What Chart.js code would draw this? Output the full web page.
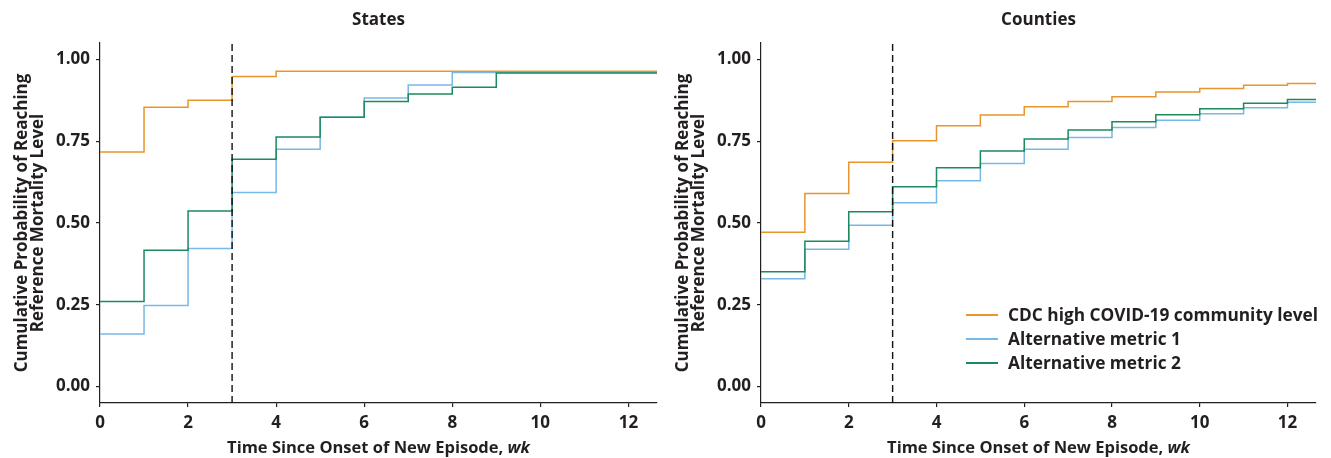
<!DOCTYPE html>
<html>
<head>
<meta charset="utf-8">
<script src="https://cdn.jsdelivr.net/npm/chart.js@4/dist/chart.umd.min.js"></script>
<style>
  body { margin: 0; background: #fff; font-family: "Open Sans", Lato, sans-serif; }
  #wrap { position: relative; width: 1331px; height: 458px; overflow: hidden; }
  .panel { position: absolute; top: 0; height: 458px; }
  #left { left: 0; width: 665px; }
  #right { left: 661px; width: 670px; }
  #legend { position: absolute; left: 966px; top: 303px; color: #231F20; font-weight: 700; font-size: 17.3px; }
  #legend div { height: 24px; line-height: 24px; white-space: nowrap; display: flex; align-items: center; }
  #legend span.sw { display: inline-block; width: 32px; height: 1.5px; margin-right: 10px; }
</style>
</head>
<body>
<div id="wrap">
  <div class="panel" id="left"><canvas id="statesChart"></canvas></div>
  <div class="panel" id="right"><canvas id="countiesChart"></canvas></div>
  <div id="legend"></div>
</div>
<script>
// ===== DATA =====
const weeks = [0, 1, 2, 3, 4, 5, 6, 7, 8, 9, 10, 11, 12, 12.65];
const xTicks = [0, 2, 4, 6, 8, 10, 12];
const yTicks = [0, 0.25, 0.5, 0.75, 1];
const onsetWeek = 3;
const yMin = -0.05;
const yMax = 1.05;
const xMax = 12.65;

const seriesNames = ["CDC high COVID-19 community level", "Alternative metric 1", "Alternative metric 2"];
const seriesColors = ["#E8952B", "#78B8E6", "#1C8A5C"];

const statesCdc  = [0.717, 0.854, 0.875, 0.948, 0.964, 0.964, 0.964, 0.964, 0.964, 0.964, 0.964, 0.964, 0.964, 0.964];
const statesAlt1 = [0.161, 0.248, 0.422, 0.593, 0.725, 0.823, 0.882, 0.922, 0.960, 0.960, 0.960, 0.960, 0.960, 0.960];
const statesAlt2 = [0.260, 0.417, 0.537, 0.695, 0.763, 0.823, 0.871, 0.894, 0.915, 0.958, 0.958, 0.958, 0.958, 0.958];

const countiesCdc  = [0.472, 0.590, 0.686, 0.751, 0.797, 0.830, 0.855, 0.871, 0.886, 0.900, 0.911, 0.921, 0.926, 0.926];
const countiesAlt1 = [0.330, 0.420, 0.493, 0.562, 0.629, 0.682, 0.725, 0.761, 0.792, 0.814, 0.834, 0.852, 0.869, 0.869];
const countiesAlt2 = [0.351, 0.444, 0.534, 0.611, 0.669, 0.720, 0.757, 0.784, 0.809, 0.831, 0.849, 0.866, 0.877, 0.877];

const textColor = "#231F20";
const fontFamily = "'Open Sans', Lato, sans-serif";
const titleFamily = "'Liberation Sans Narrow', 'Open Sans', sans-serif";
const xTitleMain = "Time Since Onset of New Episode, ";
const xTitleUnit = "wk";

function toPoints(values) {
  return values.map((v, i) => ({ x: weeks[i], y: v }));
}

// panel title and x-axis title (italic unit), both centred on the plot area
const titlesPlugin = {
  id: "panelTitles",
  afterDraw(chart, args, opts) {
    const { ctx, chartArea } = chart;
    const cx = (chartArea.left + chartArea.right) / 2;
    ctx.save();
    ctx.fillStyle = textColor;
    ctx.textBaseline = "middle";

    ctx.textAlign = "center";
    ctx.font = `bold 17px ${titleFamily}`;
    ctx.fillText(opts.text, cx, 20);

    const fMain = `bold 16.5px ${fontFamily}`;
    const fUnit = `italic bold 16.5px ${fontFamily}`;
    ctx.font = fMain;
    const w1 = ctx.measureText(xTitleMain).width;
    ctx.font = fUnit;
    const w2 = ctx.measureText(xTitleUnit).width;
    const x0 = cx - (w1 + w2) / 2;
    const y = chart.height - 10;
    ctx.textAlign = "left";
    ctx.font = fMain;
    ctx.fillText(xTitleMain, x0, y);
    ctx.font = fUnit;
    ctx.fillText(xTitleUnit, x0 + w1, y);
    ctx.restore();
  }
};

function makeChart(id, title, cdc, alt1, alt2, padRight) {
  const stepSet = (values, k) => ({
    label: seriesNames[k],
    data: toPoints(values),
    borderColor: seriesColors[k],
    borderWidth: 1.5,
    stepped: true,
    pointRadius: 0,
    fill: false
  });

  new Chart(document.getElementById(id), {
    type: "line",
    data: {
      datasets: [
        {
          label: "onset",
          data: [{ x: onsetWeek, y: yMin }, { x: onsetWeek, y: yMax }],
          borderColor: "#111",
          borderWidth: 1.4,
          borderDash: [7, 4],
          pointRadius: 0,
          fill: false
        },
        stepSet(cdc, 0),
        stepSet(alt2, 2),
        stepSet(alt1, 1)
      ]
    },
    plugins: [titlesPlugin],
    options: {
      responsive: true,
      maintainAspectRatio: false,
      animation: false,
      layout: { padding: { left: 0, right: padRight, top: 43, bottom: 0 } },
      plugins: {
        legend: { display: false },
        tooltip: { enabled: false },
        title: { display: false },
        panelTitles: { text: title }
      },
      scales: {
        x: {
          type: "linear",
          min: 0,
          max: xMax,
          afterBuildTicks: (s) => { s.ticks = xTicks.map(v => ({ value: v })); },
          afterFit: (s) => { s.height = 55; },
          border: { display: true, color: textColor, width: 1.2 },
          grid: { display: true, drawOnChartArea: false, drawTicks: true, tickLength: 4, color: textColor, lineWidth: 1.2 },
          ticks: {
            color: textColor,
            padding: 6,
            font: { family: fontFamily, size: 17, weight: "bold" },
            callback: (v) => v
          },
          title: { display: false }
        },
        y: {
          min: yMin,
          max: yMax,
          afterBuildTicks: (s) => { s.ticks = yTicks.map(v => ({ value: v })); },
          afterFit: (s) => { s.width = 100; },
          border: { display: true, color: textColor, width: 1.2 },
          grid: { display: true, drawOnChartArea: false, drawTicks: true, tickLength: 4, color: textColor, lineWidth: 1.2 },
          ticks: {
            color: textColor,
            padding: 6,
            font: { family: fontFamily, size: 17, weight: "bold" },
            callback: (v) => Number(v).toFixed(2)
          },
          title: {
            display: true,
            text: ["Cumulative Probability of Reaching", "Reference Mortality Level"],
            color: textColor,
            font: { family: fontFamily, size: 17, weight: "bold", lineHeight: 0.98 },
            padding: { top: 13.5, bottom: 0 }
          }
        }
      }
    }
  });
}

makeChart("statesChart", "States", statesCdc, statesAlt1, statesAlt2, 8);
makeChart("countiesChart", "Counties", countiesCdc, countiesAlt1, countiesAlt2, 15);

// ===== LEGEND (inside Counties panel) =====
const legend = document.getElementById("legend");
seriesNames.forEach((name, k) => {
  const row = document.createElement("div");
  const sw = document.createElement("span");
  sw.className = "sw";
  sw.style.background = seriesColors[k];
  row.appendChild(sw);
  row.appendChild(document.createTextNode(name));
  legend.appendChild(row);
});
</script>
</body>
</html>
